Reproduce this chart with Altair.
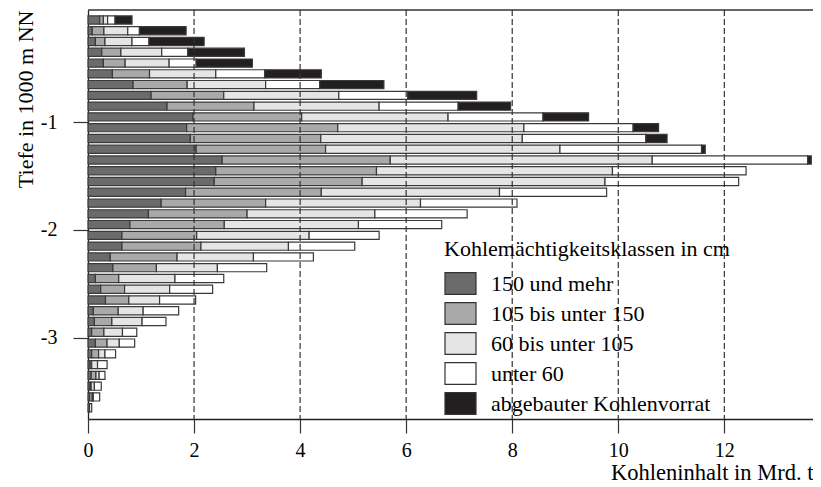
import altair as alt
import pandas as pd

# Coal-thickness classes (legend order) and their greys
classes = ["150 und mehr", "105 bis unter 150", "60 bis unter 105", "unter 60",
           "abgebauter Kohlenvorrat"]
colors = ["#6b6b6b", "#a9a9a9", "#e5e5e5", "#ffffff", "#231f20"]

# Depth classes in 1000 m (top and bottom of each 100 m slice)
depth_from = [0.0, 0.1, 0.2, 0.3, 0.4, 0.5, 0.6, 0.7, 0.8, 0.9,
              1.0, 1.1, 1.2, 1.3, 1.4, 1.5, 1.6, 1.7, 1.8, 1.9,
              2.0, 2.1, 2.2, 2.3, 2.4, 2.5, 2.6, 2.7, 2.8, 2.9,
              3.0, 3.1, 3.2, 3.3, 3.4, 3.5, 3.6]
depth_to = [0.1, 0.2, 0.3, 0.4, 0.5, 0.6, 0.7, 0.8, 0.9, 1.0,
            1.1, 1.2, 1.3, 1.4, 1.5, 1.6, 1.7, 1.8, 1.9, 2.0,
            2.1, 2.2, 2.3, 2.4, 2.5, 2.6, 2.7, 2.8, 2.9, 3.0,
            3.1, 3.2, 3.3, 3.4, 3.5, 3.6, 3.7]

# Coal content in Mrd. t per class
v150 = [0.22, 0.08, 0.14, 0.26, 0.29, 0.46, 0.85, 1.19, 1.49, 1.98,
        1.86, 1.93, 2.04, 2.53, 2.41, 2.38, 1.84, 1.38, 1.14, 0.79,
        0.64, 0.64, 0.42, 0.47, 0.14, 0.24, 0.33, 0.10, 0.12, 0.07,
        0.14, 0.07, 0.04, 0.06, 0.04, 0.03, 0.03]
v105 = [0.07, 0.22, 0.18, 0.36, 0.41, 0.70, 1.02, 1.37, 1.64, 2.05,
        2.85, 2.46, 2.44, 3.17, 3.03, 2.79, 2.56, 1.97, 1.86, 1.78,
        1.41, 1.49, 1.26, 0.82, 0.44, 0.45, 0.44, 0.47, 0.33, 0.23,
        0.22, 0.13, 0.03, 0.09, 0.02, 0.05, 0.0]
v60 = [0.08, 0.45, 0.51, 0.77, 0.83, 1.25, 1.48, 2.17, 2.36, 2.76,
       3.51, 3.80, 4.42, 4.94, 4.45, 4.58, 3.36, 2.92, 2.41, 2.53,
       2.12, 1.65, 1.44, 1.15, 1.06, 0.85, 0.58, 0.47, 0.57, 0.35,
       0.23, 0.12, 0.11, 0.06, 0.06, 0.02, 0.0]
vlt60 = [0.14, 0.22, 0.32, 0.49, 0.51, 0.92, 1.02, 1.30, 1.49, 1.79,
         2.06, 2.33, 2.67, 2.93, 2.52, 2.52, 2.02, 1.82, 1.74, 1.57,
         1.32, 1.25, 1.13, 0.93, 0.92, 0.81, 0.68, 0.67, 0.45, 0.27,
         0.29, 0.20, 0.18, 0.11, 0.13, 0.12, 0.04]
vmined = [0.32, 0.88, 1.04, 1.07, 1.06, 1.07, 1.21, 1.30, 0.99, 0.86,
          0.48, 0.40, 0.07, 0.07, 0.0, 0.0, 0.0, 0.0, 0.0, 0.0,
          0.0, 0.0, 0.0, 0.0, 0.0, 0.0, 0.0, 0.0, 0.0, 0.0,
          0.0, 0.0, 0.0, 0.0, 0.0, 0.0, 0.0]

x_ticks = [0, 2, 4, 6, 8, 10, 12]
grid_values = [2, 4, 6, 8, 10, 12]
y_ticks = [-1, -2, -3]

rows = []
for k, series in enumerate([v150, v105, v60, vlt60, vmined]):
    for i, v in enumerate(series):
        rows.append({"klasse": classes[k], "order": k, "value": v,
                     "top": -depth_from[i], "bottom": -depth_to[i],
                     "depth": depth_from[i]})
df = pd.DataFrame(rows)

W, H = 725, 409
xdom = [0, 13.672]
ydom = [-3.755, 0.0427]
FONT = "Liberation Serif"

xscale = alt.Scale(domain=xdom, nice=False, zero=False)
yscale = alt.Scale(domain=ydom, nice=False, zero=False)

xaxis = alt.Axis(values=x_ticks, tickSize=14, labelPadding=7, labelFlush=False,
                 title="Kohleninhalt in Mrd. t", titleFontSize=22.5,
                 titleAlign="right", titleX=W, titleY=60,
                 titleBaseline="alphabetic", grid=False)

bars = alt.Chart(df).transform_filter("datum.value > 0").transform_stack(
    stack="value", groupby=["depth"], as_=["x0", "x1"],
    sort=[alt.SortField("order")]
).mark_rect(stroke="#3a3a3a", strokeWidth=1.2, yOffset=1.3, y2Offset=-1.3).encode(
    x=alt.X("x0:Q", scale=xscale, axis=xaxis),
    x2="x1:Q",
    y=alt.Y("top:Q", scale=yscale,
            axis=alt.Axis(values=y_ticks, tickSize=15, labelPadding=16,
                          labelFlush=False,
                          labelExpr="'-' + format(abs(datum.value), 'd')",
                          title="Tiefe in 1000 m NN", titleAngle=-90,
                          titleAlign="right", titleBaseline="alphabetic",
                          titleX=-56, titleY=0, grid=False)),
    y2="bottom:Q",
    fill=alt.Fill("klasse:N", sort=classes,
                  scale=alt.Scale(domain=classes, range=colors),
                  legend=alt.Legend(
                      title="Kohlemächtigkeitsklassen in cm", orient="none",
                      legendX=356, legendY=229, padding=0,
                      titleFont=FONT, titleFontSize=22, titleFontWeight="normal",
                      titleColor="black", titlePadding=6, titleLimit=0,
                      labelFont=FONT, labelFontSize=22, labelColor="black",
                      labelOffset=14, rowPadding=0, labelLimit=0,
                      symbolType="M-1,-0.707L1,-0.707L1,0.707L-1,0.707Z",
                      symbolSize=961, symbolStrokeColor="#333",
                      symbolStrokeWidth=1.2, symbolOpacity=1)),
)

grid_df = pd.DataFrame({"g": grid_values})
grid = alt.Chart(grid_df).mark_rule(color="#333", strokeWidth=1.2,
                                    strokeDash=[6, 3]).encode(
    x=alt.X("g:Q", scale=xscale, axis=xaxis),
    y=alt.value(0), y2=alt.value(H))

top_df = pd.DataFrame({"t": [0]})
top_line = alt.Chart(top_df).mark_rule(color="#333", strokeWidth=1.5).encode(
    x=alt.value(0), x2=alt.value(W), y=alt.value(0))

chart = alt.layer(bars, grid, top_line).properties(
    width=W, height=H,
    autosize=alt.AutoSizeParams(type="none"),
    padding={"left": 80, "top": 2, "right": 0, "bottom": 66},
).configure_view(strokeWidth=0).configure_axis(
    domainColor="#222", domainWidth=1.3, tickColor="#333", tickWidth=1.2,
    labelColor="black", labelFont=FONT, labelFontSize=20,
    titleColor="black", titleFont=FONT, titleFontSize=22,
    titleFontWeight="normal",
)

chart.save("out.html", embed_options={"renderer": "svg", "actions": False})
